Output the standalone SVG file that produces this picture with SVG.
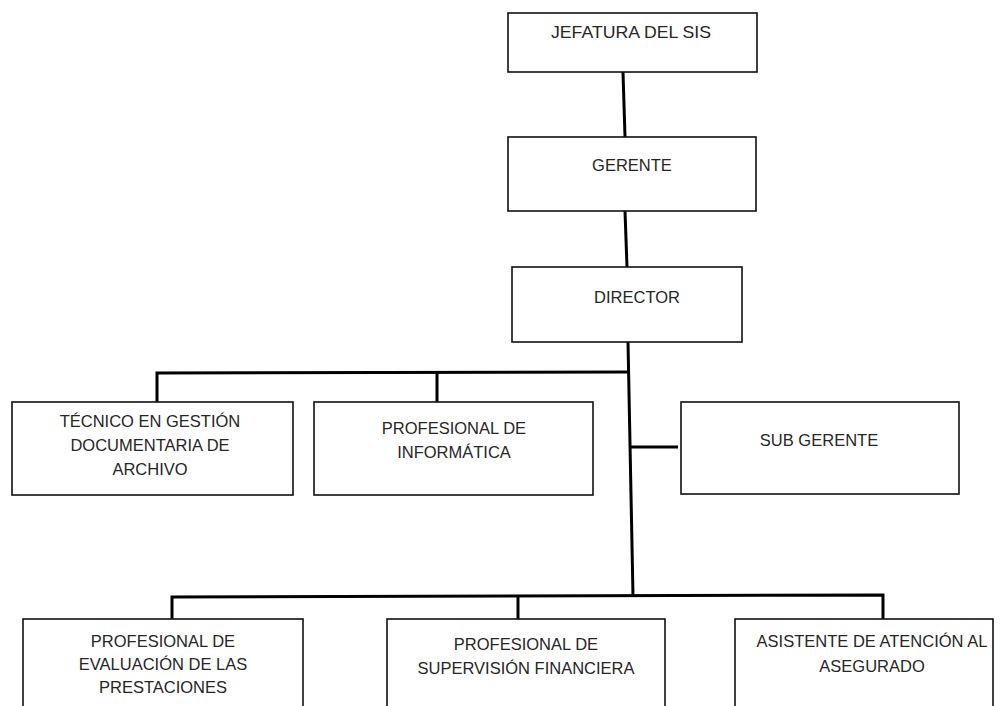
<svg xmlns="http://www.w3.org/2000/svg" width="1003" height="706" viewBox="0 0 1003 706">
<style>
.box{fill:#fff;stroke:#111;stroke-width:1.6}
.t{font-family:"Liberation Sans",Arial,sans-serif;font-size:16.5px;fill:#262626;text-anchor:middle}
.c{stroke:#000;stroke-width:3;fill:none}
</style>
<rect width="1003" height="706" fill="#fff"/>
<g id="connectors">
<line class="c" x1="623" y1="72" x2="625" y2="137"/>
<line class="c" x1="625" y1="211" x2="627" y2="267"/>
<line class="c" x1="628" y1="342" x2="633" y2="596"/>
<polyline class="c" points="157,402 157,373 629,372"/>
<line class="c" x1="437" y1="373" x2="437" y2="402"/>
<line class="c" x1="630" y1="447" x2="678" y2="447"/>
<polyline class="c" points="172,619 172,597 883,595 883,619"/>
<line class="c" x1="518" y1="596" x2="518" y2="619"/>
</g>
<g id="jefatura"><rect class="box" x="508" y="13" width="249" height="59"/><text class="t" x="631" y="38" textLength="160" lengthAdjust="spacingAndGlyphs">JEFATURA DEL SIS</text></g>
<g id="gerente"><rect class="box" x="508" y="137" width="248" height="74"/><text class="t" x="632" y="171">GERENTE</text></g>
<g id="director"><rect class="box" x="512" y="267" width="230" height="75"/><text class="t" x="637" y="303">DIRECTOR</text></g>
<g id="tecnico"><rect class="box" x="12" y="402" width="281" height="93"/><text class="t" x="150" y="427">TÉCNICO EN GESTIÓN</text><text class="t" x="150" y="451">DOCUMENTARIA DE</text><text class="t" x="150" y="475">ARCHIVO</text></g>
<g id="informatica"><rect class="box" x="314" y="402" width="279" height="93"/><text class="t" x="454" y="434">PROFESIONAL DE</text><text class="t" x="454" y="458">INFORMÁTICA</text></g>
<g id="subgerente"><rect class="box" x="681" y="402" width="278" height="92"/><text class="t" x="819" y="446">SUB GERENTE</text></g>
<g id="evaluacion"><rect class="box" x="23" y="619" width="280" height="100"/><text class="t" x="163" y="647">PROFESIONAL DE</text><text class="t" x="163" y="670">EVALUACIÓN DE LAS</text><text class="t" x="163" y="693">PRESTACIONES</text></g>
<g id="supervision"><rect class="box" x="387" y="619" width="278" height="100"/><text class="t" x="526" y="650">PROFESIONAL DE</text><text class="t" x="526" y="674">SUPERVISIÓN FINANCIERA</text></g>
<g id="asistente"><rect class="box" x="735" y="619" width="258" height="100"/><text class="t" x="872" y="647">ASISTENTE DE ATENCIÓN AL</text><text class="t" x="872" y="672">ASEGURADO</text></g>
</svg>
